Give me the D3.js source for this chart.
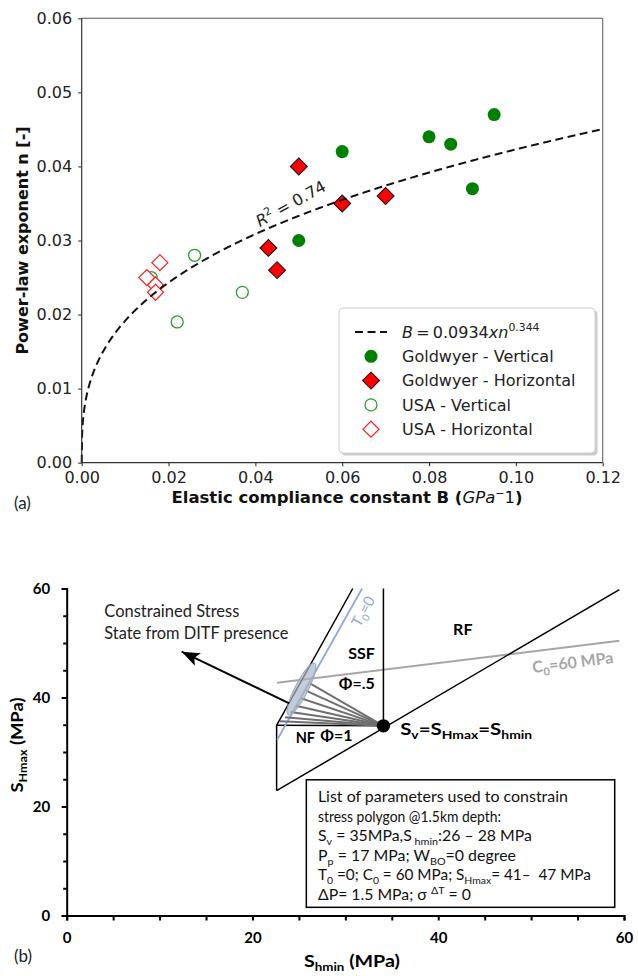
<!DOCTYPE html>
<html>
<head>
<meta charset="utf-8">
<title>Power-law exponent and stress polygon</title>
<script src="https://cdn.jsdelivr.net/npm/d3@7/dist/d3.min.js"></script>
<style>
  html, body { margin: 0; padding: 0; background: #fff; }
  svg { display: block; }
  text { white-space: pre; }
</style>
</head>
<body>
<svg id="figure" width="638" height="976"></svg>
<script>
/* ---------- panel (a): power-law exponent vs elastic compliance ---------- */

// [B (GPa^-1), n (-)]
var goldwyerVertical   = [[0.050, 0.030], [0.060, 0.042], [0.080, 0.044], [0.085, 0.043], [0.090, 0.037], [0.095, 0.047]];
var goldwyerHorizontal = [[0.043, 0.029], [0.045, 0.026], [0.050, 0.040], [0.060, 0.035], [0.070, 0.036]];
var usaVertical        = [[0.016, 0.025], [0.022, 0.019], [0.026, 0.028], [0.037, 0.023]];
var usaHorizontal      = [[0.015, 0.025], [0.017, 0.024], [0.017, 0.023], [0.018, 0.027]];

// fitted power law, as printed in the legend
var fitCoef = 0.0934;
var fitExp = 0.344;
var fitR2 = 0.74;

var xTicksA = [0, 0.02, 0.04, 0.06, 0.08, 0.10, 0.12];
var yTicksA = [0, 0.01, 0.02, 0.03, 0.04, 0.05, 0.06];
var seriesLabels = ["Goldwyer - Vertical", "Goldwyer - Horizontal", "USA - Vertical", "USA - Horizontal"];

/* ---------- panel (b): stress polygon, [S_hmin, S_Hmax] in MPa ---------- */

var xTicksB = [0, 5, 10, 15, 20, 25, 30, 35, 40, 45, 50, 55, 60];
var yTicksB = [0, 5, 10, 15, 20, 25, 30, 35, 40, 45, 50, 55, 60];
var majorTicksB = [0, 20, 40, 60];

var polygonEdges = [
  [[22.6, 22.9], [59.5, 59.8]],   // S_Hmax = S_hmin
  [[22.6, 22.9], [22.6, 34.9]],   // left side of NF field
  [[22.6, 34.9], [34.1, 34.8]],   // top of NF field
  [[22.6, 34.9], [30.8, 60.0]],   // frictional limit
  [[34.1, 34.8], [34.1, 60.0]]    // S_hmin = S_v
];
var svPoint = [34.1, 34.8];
var t0Line = [[22.65, 32.2], [31.8, 60.0]];
var c0Line = [[22.65, 42.7], [59.5, 50.4]];
var phiFanEnds = [[26.19, 42.6], [25.76, 41.26], [25.22, 39.86], [24.68, 38.5], [24.11, 37.34], [23.5, 36.36], [22.96, 35.63]];
var ditfEllipse = [[23.85, 36.8], [26.7, 46.3]];
var ditfArrow = [[23.96, 38.94], [12.38, 48.4]];
var paramLines = [
  "List of parameters used to constrain",
  "stress polygon @1.5km depth:",
  "S_{v} = 35MPa,S_{ hmin}:26 \u2013 28 MPa",
  "P_{p} = 17 MPa; W_{BO}=0 degree",
  "T_{0} =0; C_{0} = 60 MPa; S_{Hmax}= 41\u2013  47 MPa",
  "\u0394P= 1.5 MPa; \u03c3 ^{\u0394T} = 0"
];

/* ---------- helpers ---------- */

var fontA = "'DejaVu Sans', sans-serif";
var fontB = "Lato, 'DejaVu Sans', sans-serif";

// Appends tspans to a text: _{..} subscript, ^{..} superscript, *{..} italic
function rich(textSel, str, size) {
  var re = /([_^*])\{([^}]*)\}/g, last = 0, shift = 0, m;
  function add(t, mode) {
    var target = mode === "_" ? 0.25 * size : mode === "^" ? -0.4 * size : 0;
    var small = mode === "_" || mode === "^";
    var ts = textSel.append("tspan")
      .attr("dy", target - shift)
      .attr("font-size", small ? size * 0.68 : size)
      .text(t);
    if (mode === "*") ts.attr("font-style", "italic");
    shift = target;
  }
  while ((m = re.exec(str)) !== null) {
    if (m.index > last) add(str.slice(last, m.index), null);
    add(m[2], m[1]);
    last = re.lastIndex;
  }
  if (last < str.length) add(str.slice(last), null);
  return textSel;
}

var svg = d3.select("#figure");

/* ================= panel (a) ================= */

var plotA = {left: 81.7, right: 602.7, top: 18.3, bottom: 462.7};
var xA = d3.scaleLinear().domain([0, 0.12]).range([plotA.left, plotA.right]);
var yA = d3.scaleLinear().domain([0, 0.06]).range([plotA.bottom, plotA.top]);

var gA = svg.append("g").attr("font-family", fontA);

var axA = gA.append("g")
  .attr("transform", "translate(0," + plotA.bottom + ")")
  .call(d3.axisBottom(xA).tickValues(xTicksA).tickFormat(d3.format(".2f")).tickSize(3.5).tickPadding(5));
var ayA = gA.append("g")
  .attr("transform", "translate(" + plotA.left + ",0)")
  .call(d3.axisLeft(yA).tickValues(yTicksA).tickFormat(d3.format(".2f")).tickSize(3.5).tickPadding(6));
[axA, ayA].forEach(function(ax) {
  ax.attr("font-family", fontA).attr("font-size", 16);
  ax.select(".domain").remove();
  ax.selectAll(".tick line").attr("stroke", "#333").attr("stroke-width", 1.1);
  ax.selectAll(".tick text").attr("fill", "#222");
});

// markers
var circleSym = d3.symbol().type(d3.symbolCircle);
var diamondSym = d3.symbol().type(d3.symbolSquare);

function drawSeries(data, shape, size, fill, stroke, width) {
  var sym = shape === "diamond" ? diamondSym.size(size) : circleSym.size(size);
  gA.append("g").selectAll("path").data(data).enter().append("path")
    .attr("d", sym())
    .attr("transform", function(d) {
      return "translate(" + xA(d[0]) + "," + yA(d[1]) + ")" + (shape === "diamond" ? " rotate(45)" : "");
    })
    .attr("fill", fill)
    .attr("stroke", stroke)
    .attr("stroke-width", width);
}

var styles = [
  {shape: "circle", size: 133, fill: "#008000", stroke: "none", width: 0},
  {shape: "diamond", size: 144, fill: "#ff0000", stroke: "#111", width: 1},
  {shape: "circle", size: 113, fill: "none", stroke: "#2ca02c", width: 1.3},
  {shape: "diamond", size: 128, fill: "#fff", stroke: "#ff2020", width: 1.2}
];
[goldwyerVertical, goldwyerHorizontal, usaVertical, usaHorizontal].forEach(function(data, i) {
  var s = styles[i];
  drawSeries(data, s.shape, s.size, s.fill, s.stroke, s.width);
});

// fitted curve n = a * B^b, sampled along the x axis
var fitPoints = d3.range(0, 1201).map(function(i) {
  var b = 0.12 * i / 1200;
  return [b, fitCoef * Math.pow(b, fitExp)];
});
gA.append("path")
  .datum(fitPoints)
  .attr("d", d3.line().x(function(d) { return xA(d[0]); }).y(function(d) { return yA(d[1]); }))
  .attr("fill", "none")
  .attr("stroke", "#111")
  .attr("stroke-width", 2)
  .attr("stroke-dasharray", "8,4.5");

// R^2 label along the curve
rich(gA.append("text")
    .attr("transform", "translate(" + xA(0.0410) + "," + yA(0.0318) + ") rotate(-29)")
    .attr("fill", "#222"),
  "*{R}^{2} = " + fitR2, 16);

// frame
gA.append("line").attr("x1", plotA.left).attr("x2", plotA.right).attr("y1", plotA.top).attr("y2", plotA.top)
  .attr("stroke", "#555").attr("stroke-width", 1.1);
gA.append("line").attr("x1", plotA.right).attr("x2", plotA.right).attr("y1", plotA.top).attr("y2", plotA.bottom)
  .attr("stroke", "#666").attr("stroke-width", 1.1);
gA.append("line").attr("x1", plotA.left).attr("x2", plotA.left).attr("y1", plotA.top).attr("y2", plotA.bottom)
  .attr("stroke", "#333").attr("stroke-width", 1.2);
gA.append("line").attr("x1", plotA.left).attr("x2", plotA.right).attr("y1", plotA.bottom).attr("y2", plotA.bottom)
  .attr("stroke", "#333").attr("stroke-width", 1.2);

// legend
var leg = gA.append("g").attr("transform", "translate(339,308)");
leg.append("rect").attr("x", 2.5).attr("y", 2.5).attr("width", 256).attr("height", 145).attr("rx", 4)
  .attr("fill", "#999").attr("opacity", 0.5);
leg.append("rect").attr("width", 256).attr("height", 145).attr("rx", 4)
  .attr("fill", "#fff").attr("stroke", "#d0d0d0");

var rowY = function(i) { return 24 + i * 24.3; };
leg.append("line").attr("x1", 16).attr("x2", 48).attr("y1", rowY(0)).attr("y2", rowY(0))
  .attr("stroke", "#111").attr("stroke-width", 2).attr("stroke-dasharray", "8,4.5");
rich(leg.append("text").attr("x", 63).attr("y", rowY(0) + 5.8).attr("font-size", 16).attr("fill", "#222"),
  "*{B}\u2009=\u2009" + fitCoef + "*{xn}^{" + fitExp + "}", 16);

seriesLabels.forEach(function(label, i) {
  var s = styles[i];
  var sym = s.shape === "diamond" ? diamondSym.size(s.size) : circleSym.size(s.size);
  leg.append("path")
    .attr("d", sym())
    .attr("transform", "translate(32," + rowY(i + 1) + ")" + (s.shape === "diamond" ? " rotate(45)" : ""))
    .attr("fill", s.fill).attr("stroke", s.stroke).attr("stroke-width", s.width);
  leg.append("text").attr("x", 63).attr("y", rowY(i + 1) + 5.8)
    .attr("font-size", 16).attr("fill", "#222").text(label);
});

// axis titles
gA.append("text")
  .attr("transform", "translate(28.4," + (plotA.top + plotA.bottom) / 2 + ") rotate(-90)")
  .attr("text-anchor", "middle").attr("font-size", 16).attr("font-weight", "bold").attr("fill", "#111")
  .text("Power-law exponent n [-]");

var xtA = gA.append("text")
  .attr("x", 347).attr("y", 503)
  .attr("text-anchor", "middle").attr("font-size", 16.5).attr("fill", "#111");
xtA.append("tspan").attr("font-weight", "bold").text("Elastic compliance constant B (");
xtA.append("tspan").attr("font-style", "italic").text("GPa");
xtA.append("tspan").attr("font-size", 11).attr("dy", -6).text("\u2212");
xtA.append("tspan").attr("dy", 6).text("1");
xtA.append("tspan").attr("font-weight", "bold").text(")");

svg.append("text").attr("x", 14).attr("y", 509).attr("font-family", fontB).attr("font-size", 17)
  .attr("fill", "#222").text("(a)");

/* ================= panel (b) ================= */

var plotB = {left: 66.7, right: 624, top: 588.5, bottom: 915.5};
var xB = d3.scaleLinear().domain([0, 60]).range([plotB.left, plotB.right]);
var yB = d3.scaleLinear().domain([0, 60]).range([plotB.bottom, plotB.top]);
var pt = function(d) { return [xB(d[0]), yB(d[1])]; };

var gB = svg.append("g").attr("font-family", fontB);

// C0 = 60 MPa line
gB.append("line")
  .attr("x1", xB(c0Line[0][0])).attr("y1", yB(c0Line[0][1]))
  .attr("x2", xB(c0Line[1][0])).attr("y2", yB(c0Line[1][1]))
  .attr("stroke", "#a6a6a6").attr("stroke-width", 2);

// frictional polygon
gB.append("g").selectAll("line").data(polygonEdges).enter().append("line")
  .attr("x1", function(d) { return xB(d[0][0]); }).attr("y1", function(d) { return yB(d[0][1]); })
  .attr("x2", function(d) { return xB(d[1][0]); }).attr("y2", function(d) { return yB(d[1][1]); })
  .attr("stroke", "#000").attr("stroke-width", 1.5);

// T0 = 0 line
gB.append("line")
  .attr("x1", xB(t0Line[0][0])).attr("y1", yB(t0Line[0][1]))
  .attr("x2", xB(t0Line[1][0])).attr("y2", yB(t0Line[1][1]))
  .attr("stroke", "#8eaadb").attr("stroke-width", 1.8);

// fan of constant-phi lines from the S_v point
gB.append("g").selectAll("line").data(phiFanEnds).enter().append("line")
  .attr("x1", xB(svPoint[0])).attr("y1", yB(svPoint[1]))
  .attr("x2", function(d) { return xB(d[0]); }).attr("y2", function(d) { return yB(d[1]); })
  .attr("stroke", "#6f6f6f").attr("stroke-width", 2);

// DITF constrained region
var e0 = pt(ditfEllipse[0]), e1 = pt(ditfEllipse[1]);
var eLen = Math.hypot(e1[0] - e0[0], e1[1] - e0[1]);
var eAng = Math.atan2(e1[1] - e0[1], e1[0] - e0[0]) * 180 / Math.PI;
gB.append("ellipse")
  .attr("transform", "translate(" + (e0[0] + e1[0]) / 2 + "," + (e0[1] + e1[1]) / 2 + ") rotate(" + eAng + ")")
  .attr("rx", eLen / 2).attr("ry", 6.5)
  .attr("fill", "#a9b6c6").attr("fill-opacity", 0.7)
  .attr("stroke", "#9aa7b7").attr("stroke-width", 1);

// arrow
var defs = svg.append("defs");
defs.append("marker")
  .attr("id", "head").attr("markerUnits", "userSpaceOnUse")
  .attr("markerWidth", 20).attr("markerHeight", 16)
  .attr("refX", 18).attr("refY", 7).attr("orient", "auto")
  .append("path").attr("d", "M0,0 L18,7 L0,14 L4,7 Z").attr("fill", "#000");
gB.append("line")
  .attr("x1", xB(ditfArrow[0][0])).attr("y1", yB(ditfArrow[0][1]))
  .attr("x2", xB(ditfArrow[1][0])).attr("y2", yB(ditfArrow[1][1]))
  .attr("stroke", "#000").attr("stroke-width", 2).attr("marker-end", "url(#head)");

gB.append("circle").attr("cx", xB(svPoint[0])).attr("cy", yB(svPoint[1])).attr("r", 6.7).attr("fill", "#000");

// axes
var axB = gB.append("g")
  .attr("transform", "translate(0," + plotB.bottom + ")")
  .call(d3.axisBottom(xB).tickValues(xTicksB).tickSizeOuter(0).tickSize(5).tickPadding(12)
    .tickFormat(function(d) { return majorTicksB.indexOf(d) >= 0 ? d : ""; }));
var ayB = gB.append("g")
  .attr("transform", "translate(" + plotB.left + ",0)")
  .call(d3.axisLeft(yB).tickValues(yTicksB).tickSizeOuter(0).tickSize(5).tickPadding(11.5)
    .tickFormat(function(d) { return majorTicksB.indexOf(d) >= 0 ? d : ""; }));
ayB.selectAll(".tick line").attr("x2", function(d) { return majorTicksB.indexOf(d) >= 0 ? -5 : -3.5; });
[axB, ayB].forEach(function(ax) {
  ax.attr("font-family", fontB).attr("font-size", 15).attr("font-weight", "bold");
  ax.select(".domain").attr("stroke", "#000").attr("stroke-width", 2);
  ax.selectAll(".tick line").attr("stroke", "#000").attr("stroke-width", 2);
  ax.selectAll(".tick text").attr("fill", "#000");
});

// annotations (len: width of the text in the figure, in px)
var note = function(x, y, str, size, opts) {
  opts = opts || {};
  var t = gB.append("text")
    .attr("transform", "translate(" + xB(x) + "," + yB(y) + ")" + (opts.rotate ? " rotate(" + opts.rotate + ")" : ""))
    .attr("font-size", size)
    .attr("font-weight", opts.bold ? "bold" : null)
    .attr("fill", opts.color || "#222");
  if (opts.len) t.attr("textLength", opts.len).attr("lengthAdjust", "spacingAndGlyphs");
  return rich(t, str, size);
};
note(4.05, 54.8, "Constrained Stress", 16.5, {len: 135});
note(4.05, 50.7, "State from DITF presence", 16.5, {len: 184});
note(30.3, 47.0, "SSF", 16, {bold: true, color: "#000"});
note(29.3, 41.5, "\u03a6=.5", 16, {bold: true, color: "#000"});
note(24.65, 31.7, "NF", 14.5, {bold: true, color: "#000"});
note(27.3, 32.1, "\u03a6=1", 16, {bold: true, color: "#000"});
note(35.9, 33.1, "S_{v}=S_{Hmax}=S_{hmin}", 17, {bold: true, color: "#000", len: 132});
note(41.6, 51.5, "RF", 16, {bold: true, color: "#000"});
note(31.57, 52.75, "T_{0}=0", 15, {rotate: -61, color: "#8eaadb"});
note(50.2, 44.5, "C_{0}=60 MPa", 16, {rotate: -7, bold: true, color: "#a6a6a6"});

// parameter box
var paramWidths = [250, 183, 214, 198, 273, 153];
var box = gB.append("g");
box.append("rect")
  .attr("x", xB(25.8)).attr("y", yB(24.9))
  .attr("width", xB(59.0) - xB(25.8)).attr("height", yB(1.5) - yB(24.9))
  .attr("fill", "#fff").attr("stroke", "#000").attr("stroke-width", 1.5);
paramLines.forEach(function(line, i) {
  rich(box.append("text").attr("x", xB(27.05)).attr("y", 802 + i * 19.6).attr("font-size", 15).attr("fill", "#111")
      .attr("textLength", paramWidths[i]).attr("lengthAdjust", "spacingAndGlyphs"),
    line, 15);
});

// axis titles
rich(gB.append("text")
    .attr("transform", "translate(23,745) rotate(-90)")
    .attr("text-anchor", "middle").attr("font-weight", "bold").attr("fill", "#000")
    .attr("textLength", 95).attr("lengthAdjust", "spacingAndGlyphs"),
  "S_{Hmax} (MPa)", 17);
rich(gB.append("text")
    .attr("x", 352).attr("y", 967)
    .attr("text-anchor", "middle").attr("font-weight", "bold").attr("fill", "#000")
    .attr("textLength", 96).attr("lengthAdjust", "spacingAndGlyphs"),
  "S_{hmin} (MPa)", 17);

svg.append("text").attr("x", 14).attr("y", 962).attr("font-family", fontB).attr("font-size", 17)
  .attr("fill", "#222").text("(b)");
</script>
</body>
</html>
